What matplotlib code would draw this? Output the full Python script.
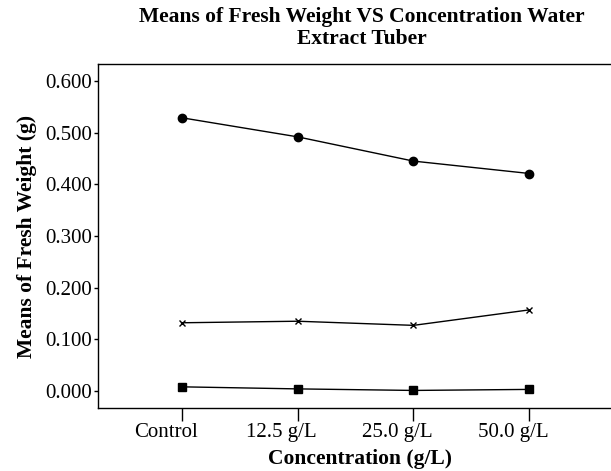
import matplotlib
matplotlib.use("Agg")
import matplotlib.pyplot as plt
import matplotlib.transforms as mtransforms

# data
categories = ["Control", "12.5 g/L", "25.0 g/L", "50.0 g/L"]
circle_vals = [0.529, 0.492, 0.445, 0.421]
cross_vals = [0.132, 0.135, 0.127, 0.157]
square_vals = [0.008, 0.004, 0.001, 0.003]
yticks = [0.0, 0.1, 0.2, 0.3, 0.4, 0.5, 0.6]

plt.rcParams["font.family"] = ["Liberation Serif", "DejaVu Serif"]

fig = plt.figure(figsize=(6.11, 4.71), dpi=100)
ax = fig.add_axes([98 / 611, 1 - 408 / 471, 515 / 611, 344 / 471])

x = list(range(len(categories)))
ax.plot(x, circle_vals, color="black", lw=1, marker="o", ms=6)
ax.plot(x, cross_vals, color="black", lw=1, marker="x", ms=4, mew=1)
ax.plot(x, square_vals, color="black", lw=1, marker="s", ms=5.5)

ax.set_xlim(-0.72, 3.72)
ax.set_ylim(-0.033, 0.633)
ax.set_xticks(x)
ax.set_xticklabels(categories, fontsize=15)
ax.set_yticks(yticks)
ax.set_yticklabels(["%.3f" % v for v in yticks], fontsize=15)
ax.tick_params(axis="x", length=9, width=1, pad=2)
ax.tick_params(axis="y", length=3, width=1, pad=1)
for s in ax.spines.values():
    s.set_linewidth(1)

# tick labels sit a bit left of their ticks in the original
shift = mtransforms.ScaledTranslation(-16 / 100, 0, fig.dpi_scale_trans)
for lab in ax.get_xticklabels():
    lab.set_transform(lab.get_transform() + shift)

ax.set_xlabel("Concentration (g/L)", fontsize=15.5, fontweight="bold", labelpad=5)
ax.xaxis.label.set_x(262 / 515)
ax.set_ylabel("Means of Fresh Weight (g)", fontsize=15.5, fontweight="bold", labelpad=6)

fig.text(362 / 611, 1 - 7 / 471, "Means of Fresh Weight VS Concentration Water\nExtract Tuber",
         ha="center", va="top", fontsize=15.5, fontweight="bold", linespacing=1.15)

fig.savefig("out.png", dpi=100)
